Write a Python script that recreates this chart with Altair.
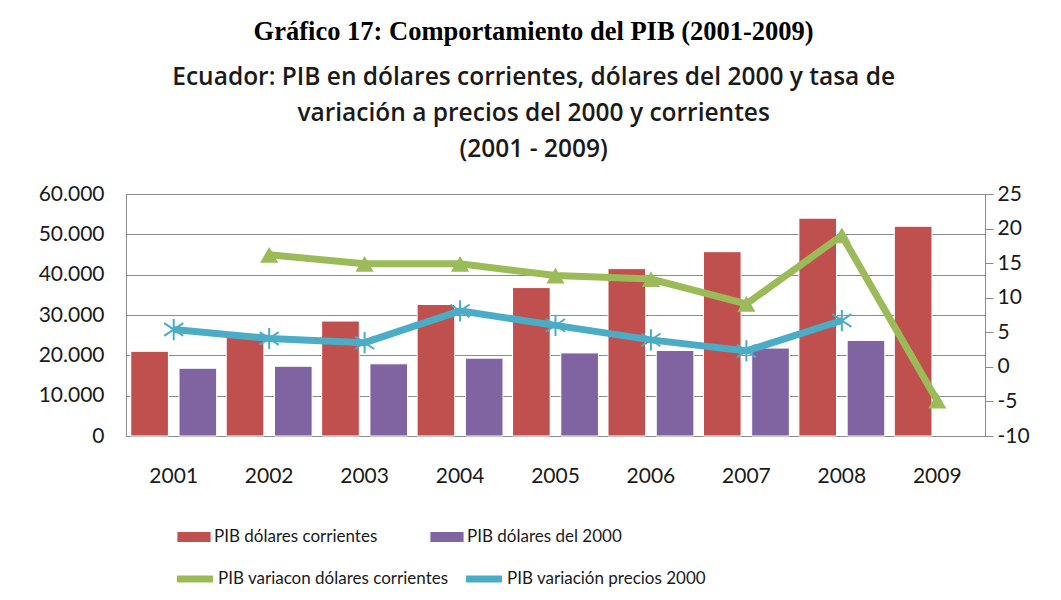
import altair as alt
import pandas as pd

years = ["2001", "2002", "2003", "2004", "2005", "2006", "2007", "2008", "2009"]
pib_corrientes = [21000, 24900, 28500, 32600, 36800, 41500, 45700, 54000, 52000]
pib_2000 = [16800, 17300, 17900, 19300, 20600, 21200, 21800, 23700, None]
var_corrientes = [None, 16.2, 14.9, 14.9, 13.2, 12.7, 9.1, 19.0, -4.9]
var_2000 = [5.4, 4.1, 3.5, 8.1, 6.0, 3.9, 2.3, 6.7, None]

bar_names = ["PIB dólares corrientes", "PIB dólares del 2000"]
line_names = ["PIB variacon dólares corrientes", "PIB variación precios 2000"]
bar_colors = ["#C0504D", "#8064A2"]
line_colors = ["#9BBB59", "#4BACC6"]

bars_rows = []
for y, a, b in zip(years, pib_corrientes, pib_2000):
    if a is not None:
        bars_rows.append({"year": y, "serie": bar_names[0], "value": a})
    if b is not None:
        bars_rows.append({"year": y, "serie": bar_names[1], "value": b})
bars_df = pd.DataFrame(bars_rows)

line_rows = []
for y, a, b in zip(years, var_corrientes, var_2000):
    if a is not None:
        line_rows.append({"year": y, "serie": line_names[0], "value": a})
    if b is not None:
        line_rows.append({"year": y, "serie": line_names[1], "value": b})
lines_df = pd.DataFrame(line_rows)

FONT = "Lato"
TXT = "#1a1a1a"
GRID = "#8c8c8c"

x_enc = alt.X(
    "year:N",
    sort=years,
    scale=alt.Scale(paddingInner=0.1, paddingOuter=0.05),
    axis=alt.Axis(
        title=None, labelAngle=0, ticks=False, labelPadding=29, domainColor=GRID,
        labelFont=FONT, labelFontSize=21, labelColor=TXT,
    ),
)

bars = alt.Chart(bars_df).mark_bar(stroke="white", strokeWidth=1).encode(
    x=x_enc,
    xOffset=alt.XOffset("serie:N", sort=bar_names, scale=alt.Scale(paddingInner=0.22, paddingOuter=0.0)),
    y=alt.Y(
        "value:Q",
        scale=alt.Scale(domain=[0, 60000], nice=False),
        axis=alt.Axis(
            title=None, values=[0, 10000, 20000, 30000, 40000, 50000, 60000],
            labelExpr="replace(format(datum.value, ','), ',', '.')",
            grid=True, gridColor=GRID, gridWidth=1, ticks=False, domainColor=GRID,
            labelPadding=22, labelFont=FONT, labelFontSize=21, labelColor=TXT,
        ),
    ),
    color=alt.Color(
        "serie:N",
        scale=alt.Scale(domain=bar_names, range=bar_colors),
        legend=alt.Legend(
            title=None, orient="none", legendX=51, legendY=326, columns=2, columnPadding=52,
            symbolType="M-1,-0.3H1V0.3H-1Z", symbolSize=1100, symbolStrokeWidth=0,
            labelFont=FONT, labelFontSize=17, labelColor=TXT, labelOffset=3, labelLimit=0,
        ),
    ),
)

y_right = alt.Y(
    "value:Q",
    scale=alt.Scale(domain=[-10, 25], nice=False),
    axis=alt.Axis(
        title=None, orient="right", values=[-10, -5, 0, 5, 10, 15, 20, 25],
        labelExpr="'' + datum.value", grid=False, ticks=True, tickSize=8, tickColor=GRID,
        domainColor=GRID, labelPadding=4, labelFont=FONT, labelFontSize=21, labelColor=TXT,
    ),
)

lines = alt.Chart(lines_df).mark_line(strokeWidth=7).encode(
    x=alt.X("year:N", sort=years),
    y=y_right,
    stroke=alt.Stroke(
        "serie:N",
        scale=alt.Scale(domain=line_names, range=line_colors),
        legend=alt.Legend(
            title=None, orient="none", legendX=47, legendY=363, columns=2, columnPadding=2,
            symbolType="stroke", symbolSize=1300, symbolStrokeWidth=7,
            labelFont=FONT, labelFontSize=17, labelColor=TXT, labelOffset=1, labelLimit=0,
        ),
    ),
)

tri = alt.Chart(lines_df).transform_filter(
    alt.datum.serie == line_names[0]
).mark_point(shape="triangle-up", filled=True, size=330, color=line_colors[0], opacity=1).encode(
    x=alt.X("year:N", sort=years),
    y=y_right,
)

star = alt.Chart(lines_df).transform_filter(
    alt.datum.serie == line_names[1]
).mark_point(
    shape="M0,-1L0,1M-0.9,-0.6L0.9,0.6M-0.9,0.6L0.9,-0.6",
    filled=False, size=450, color=line_colors[1], strokeWidth=2, opacity=1,
).encode(
    x=alt.X("year:N", sort=years),
    y=y_right,
)

right = alt.layer(lines, tri, star)

chart = alt.layer(bars, right).resolve_scale(y="independent").properties(
    width=859,
    height=242,
    padding={"left": 30, "top": 11, "right": 20, "bottom": 5},
    title=alt.TitleParams(
        text="Gráfico 17: Comportamiento del PIB (2001-2009)",
        subtitle=[
            "Ecuador: PIB en dólares corrientes, dólares del 2000 y tasa de",
            "variación a precios del 2000 y corrientes",
            "(2001 - 2009)",
        ],
        anchor="middle", frame="bounds",
        font="Liberation Serif", fontSize=26.5, fontWeight="bold", color="#000000",
        subtitleFont="Open Sans", subtitleFontSize=24.5, subtitleFontWeight=600,
        subtitleColor=TXT, subtitleLineHeight=36, subtitlePadding=20, offset=22,
    ),
).configure_view(stroke=GRID).configure(background="white")

chart.save("out.html", embed_options={"renderer": "svg", "actions": False})
